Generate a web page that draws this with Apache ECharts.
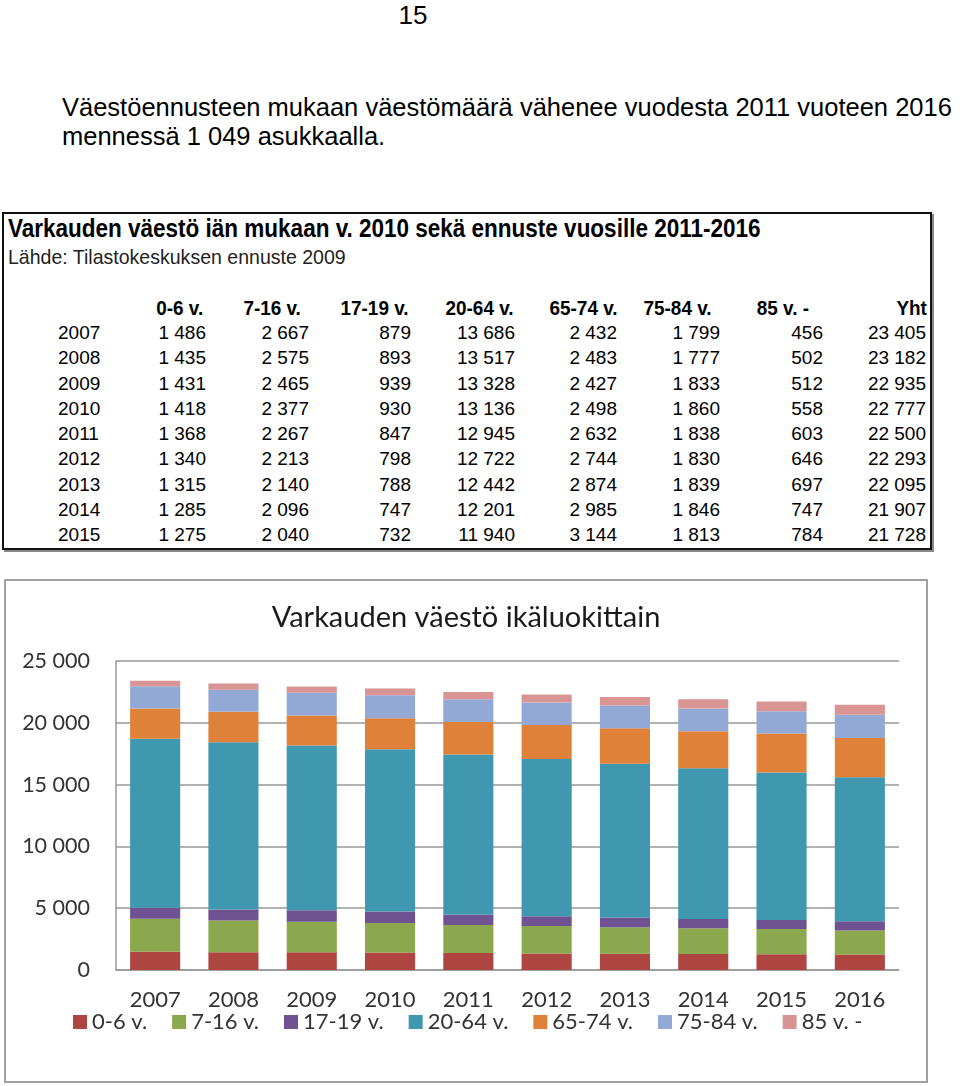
<!DOCTYPE html>
<html>
<head>
<meta charset="utf-8">
<script src="https://cdn.jsdelivr.net/npm/echarts@6/dist/echarts.min.js"></script>
<style>
  body { margin: 0; width: 960px; height: 1086px; background: #fff; position: relative; overflow: hidden;
         font-family: "Liberation Sans", Arial, sans-serif; color: #000; }
  .abs { position: absolute; white-space: nowrap; }
  #pageno { left: 0; width: 826px; text-align: center; top: 0; font-size: 26px; }
  .para { left: 62px; font-size: 25.5px; }
  #tbl { left: 2px; top: 212px; width: 926px; height: 334px; border: 2px solid #111;
         box-shadow: 2px 2px 0 #888; }
  .narrow { transform-origin: left center; }
  .narrowR { transform-origin: right center; transform: scaleX(0.9); }
  #chart { position: absolute; left: 4px; top: 579px; width: 920px; height: 500px; border: 2px solid #a0a0a0; }
</style>
</head>
<body>
<div class="abs" id="pageno">15</div>
<div class="abs para" style="top:93px">Väestöennusteen mukaan väestömäärä vähenee vuodesta 2011 vuoteen 2016</div>
<div class="abs para" style="top:122px">mennessä 1 049 asukkaalla.</div>

<div class="abs" id="tbl">
  <div class="abs narrow" style="left:4px;top:0px;font-size:25px;font-weight:bold;transform:scaleX(0.9);">Varkauden väestö iän mukaan v. 2010 sekä ennuste vuosille 2011-2016</div>
  <div class="abs narrow" style="left:4px;top:31px;font-size:21px;color:#222;transform:scaleX(0.93);">Lähde: Tilastokeskuksen ennuste 2009</div>
</div>

<div id="chart"></div>

<script>
// table + chart data (2016 only in the chart)
const years = ['2007', '2008', '2009', '2010', '2011', '2012', '2013', '2014', '2015', '2016'];
const groups = ['0-6 v.', '7-16 v.', '17-19 v.', '20-64 v.', '65-74 v.', '75-84 v.', '85 v. -'];
const age0_6 = [1486, 1435, 1431, 1418, 1368, 1340, 1315, 1285, 1275, 1245];
const age7_16 = [2667, 2575, 2465, 2377, 2267, 2213, 2140, 2096, 2040, 1960];
const age17_19 = [879, 893, 939, 930, 847, 798, 788, 747, 732, 730];
const age20_64 = [13686, 13517, 13328, 13136, 12945, 12722, 12442, 12201, 11940, 11650];
const age65_74 = [2432, 2483, 2427, 2498, 2632, 2744, 2874, 2985, 3144, 3180];
const age75_84 = [1799, 1777, 1833, 1860, 1838, 1830, 1839, 1846, 1813, 1880];
const age85 = [456, 502, 512, 558, 603, 646, 697, 747, 784, 806];
const totals = [23405, 23182, 22935, 22777, 22500, 22293, 22095, 21907, 21728];
const tableYears = years.slice(0, 9);
const yTicks = [0, 5000, 10000, 15000, 20000, 25000];

const seriesData = [age0_6, age7_16, age17_19, age20_64, age65_74, age75_84, age85];
const colors = ['#AE4541', '#8CA84F', '#6E5291', '#4097B0', '#E0813A', '#93A9D5', '#D99593'];

function fmt(v) {
  return String(v).replace(/\B(?=(\d{3})+(?!\d))/g, ' ');
}

// build the table (right edges in page pixels)
const tbl = document.getElementById('tbl');
const headRight = [203, 301, 408, 513, 617, 711, 809, 927];
const cellRight = [206, 309, 411, 515, 617, 720, 823, 926];
function put(text, right, top, cls, style) {
  const d = document.createElement('div');
  d.className = 'abs ' + (cls || '');
  d.textContent = text;
  d.style.right = (930 - right) + 'px';
  d.style.top = top + 'px';
  Object.assign(d.style, style || {});
  tbl.appendChild(d);
}
const heads = groups.concat(['Yht']);
heads.forEach((h, i) => put(h, headRight[i], 82, 'narrowR', { fontSize: '21px', fontWeight: 'bold' }));
tableYears.forEach((y, r) => {
  const top = 108 + r * 25.25;
  const yd = document.createElement('div');
  yd.className = 'abs';
  yd.textContent = y;
  yd.style.left = '54px';
  yd.style.top = top + 'px';
  yd.style.fontSize = '19px';
  tbl.appendChild(yd);
  const row = seriesData.map(s => s[r]).concat([totals[r]]);
  row.forEach((v, c) => put(fmt(v), cellRight[c], top, '', { fontSize: '19px' }));
});

// chart
const myChart = echarts.init(document.getElementById('chart'));
const option = {
  animation: false,
  textStyle: { fontFamily: 'Lato, sans-serif' },
  title: {
    text: 'Varkauden väestö ikäluokittain',
    left: 'center',
    top: 17,
    textStyle: { fontSize: 29, fontWeight: 'normal', color: '#1a1a1a', fontFamily: 'Lato, sans-serif' }
  },
  legend: {
    data: groups,
    left: 62,
    top: 425,
    icon: 'rect',
    itemWidth: 14,
    itemHeight: 14,
    itemGap: 25,
    textStyle: { fontSize: 22, color: '#333' }
  },
  grid: { left: 110, right: 27, top: 80, bottom: 111 },
  xAxis: {
    type: 'category',
    data: years,
    axisTick: { show: false },
    axisLine: { lineStyle: { color: '#999', width: 1.5 } },
    axisLabel: { fontSize: 22, color: '#333', margin: 19 }
  },
  yAxis: {
    type: 'value',
    min: yTicks[0],
    max: yTicks[yTicks.length - 1],
    interval: yTicks[1] - yTicks[0],
    axisLine: { show: true, lineStyle: { color: '#999', width: 1.5 } },
    axisTick: { show: false },
    splitLine: { lineStyle: { color: '#999', width: 1.5 } },
    axisLabel: { fontSize: 21.5, color: '#333', margin: 26, formatter: fmt }
  },
  series: groups.map((g, i) => ({
    name: g,
    type: 'bar',
    stack: 'all',
    barCategoryGap: '36%',
    itemStyle: { color: colors[i] },
    data: seriesData[i]
  }))
};
myChart.setOption(option);
</script>
</body>
</html>
